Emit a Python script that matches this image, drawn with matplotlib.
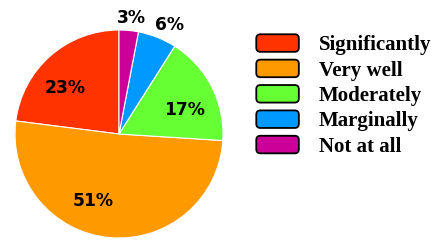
import matplotlib
matplotlib.use("Agg")
import matplotlib.pyplot as plt
from matplotlib.patches import FancyBboxPatch, Wedge
from matplotlib.legend_handler import HandlerPatch

categories = ["Significantly", "Very well", "Moderately", "Marginally", "Not at all"]
values = [23, 51, 17, 6, 3]
labels = ["23%", "51%", "17%", "6%", "3%"]
colors = ["#FF3300", "#FF9900", "#66FF33", "#0099FF", "#CC0099"]
# label positions in pie units (radius = 1)
label_pos = [(-0.52, 0.44), (-0.25, -0.64), (0.63, 0.23), (0.49, 1.05), (0.115, 1.115)]

fig = plt.figure(figsize=(4.43, 2.40), dpi=100)
ax = fig.add_axes([15/443, 2/240, 208/443, 208/240])
wedges, _ = ax.pie(values, colors=colors, startangle=90, counterclock=True,
                   radius=1.0, wedgeprops=dict(edgecolor="white", linewidth=0.8))
ax.set_xlim(-1, 1)
ax.set_ylim(-1, 1)
ax.set_aspect("equal")
ax.axis("off")

for lab, (x, y) in zip(labels, label_pos):
    ax.text(x, y, lab, ha="center", va="center", fontsize=12.3,
            family="DejaVu Sans", fontweight="bold", color="black", clip_on=False)


class RoundHandler(HandlerPatch):
    def create_artists(self, legend, orig_handle, xdescent, ydescent, width, height, fontsize, trans):
        p = FancyBboxPatch((-xdescent + 1.5, -ydescent + 1.5), width - 3, height - 3,
                           boxstyle="round,pad=1.3,rounding_size=3",
                           facecolor=orig_handle.get_facecolor(), edgecolor="black",
                           linewidth=1.3, transform=trans)
        return [p]


leg = fig.legend(wedges, categories, loc="upper left",
                 bbox_to_anchor=(256/443, 1 - 34/240), frameon=False,
                 borderpad=0, borderaxespad=0,
                 prop=dict(family="Liberation Serif", weight="bold", size=15),
                 handlelength=2.07, handleheight=0.96, handletextpad=0.96,
                 labelspacing=0.2,
                 handler_map={Wedge: RoundHandler()})

fig.savefig("out.png", dpi=100)
